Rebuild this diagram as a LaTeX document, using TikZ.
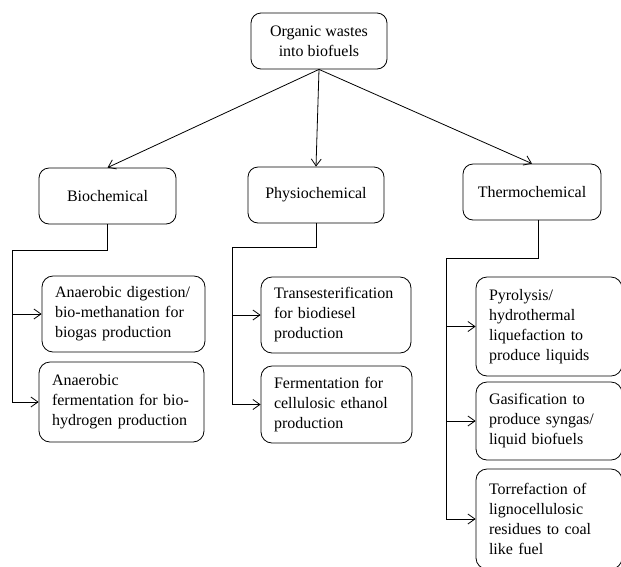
\documentclass[tikz,border=0pt]{standalone}
\usepackage{fontspec}
\setmainfont{Liberation Serif}
\usetikzlibrary{arrows.meta}
\hyphenpenalty=10000
\exhyphenpenalty=10000
\begin{document}
\begin{tikzpicture}[x=1pt,y=-1pt,
  font=\fontsize{16}{20}\selectfont,
  box/.style={draw, rounded corners=10pt, line width=0.8pt, inner sep=0pt, align=center},
  lbox/.style={draw, rounded corners=11pt, line width=0.8pt, inner ysep=0pt, inner xsep=13pt, align=left},
  conn/.style={line width=0.8pt},
  arr/.style={line width=0.8pt, -{Straight Barb[length=7pt,width=10pt]}}]
\useasboundingbox (0,0) rectangle (621,566);
\fill[white] (0,0) rectangle (621,566);
% main boxes
\node[box, minimum width=136pt, minimum height=56pt] (top) at (319,41) {Organic wastes\\into biofuels};
\node[box, minimum width=137pt, minimum height=56pt] (bio) at (107.5,196) {Biochemical};
\node[box, minimum width=136pt, minimum height=56pt] (phys) at (316,195) {Physiochemical};
\node[box, minimum width=138pt, minimum height=56pt] (thermo) at (532,192) {Thermochemical};
% sub boxes
\node[lbox, text width=137pt, minimum height=76pt] (b1) at (123.5,314) {Anaerobic digestion/\\bio-methanation for\\biogas production};
\node[lbox, text width=139pt, minimum height=80pt] (b2) at (121.5,402) {Anaerobic\\fermentation for bio-\\hydrogen production};
\node[lbox, text width=124pt, minimum height=76pt] (p1) at (336,315) {Transesterification\\for biodiesel\\production};
\node[lbox, text width=125pt, minimum height=77pt] (p2) at (336.5,404.5) {Fermentation for\\cellulosic ethanol\\production};
\node[lbox, text width=120pt, minimum height=99pt] (t1) at (549,326.5) {Pyrolysis/\\hydrothermal\\liquefaction to\\produce liquids};
\node[lbox, text width=120pt, minimum height=78pt] (t2) at (549,421) {Gasification to\\produce syngas/\\liquid biofuels};
\node[lbox, text width=120pt, minimum height=100pt] (t3) at (549,519) {Torrefaction of\\lignocellulosic\\residues to coal\\like fuel};
% top arrows
\draw[arr] (top.south) -- (bio.north);
\draw[arr] (top.south) -- (phys.north);
\draw[arr] (top.south) -- (thermo.north);
% biochemical branch
\coordinate (bj) at (12,250);
\draw[conn] (bio.south) |- (bj) -- (bj |- b2.west);
\draw[arr] (bj |- b1.west) -- (b1.west);
\draw[arr] (bj |- b2.west) -- (b2.west);
% physiochemical branch
\coordinate (pj) at (232,247);
\draw[conn] (phys.south) |- (pj) -- (pj |- p2.west);
\draw[arr] (pj |- p1.west) -- (p1.west);
\draw[arr] (pj |- p2.west) -- (p2.west);
% thermochemical branch
\coordinate (tj) at (446,258);
\coordinate (ts) at ([xshift=6pt]thermo.south);
\draw[conn] (ts) |- (tj) -- (tj |- t3.west);
\draw[arr] (tj |- t1.west) -- (t1.west);
\draw[arr] (tj |- t2.west) -- (t2.west);
\draw[arr] (tj |- t3.west) -- (t3.west);
\end{tikzpicture}
\end{document}
